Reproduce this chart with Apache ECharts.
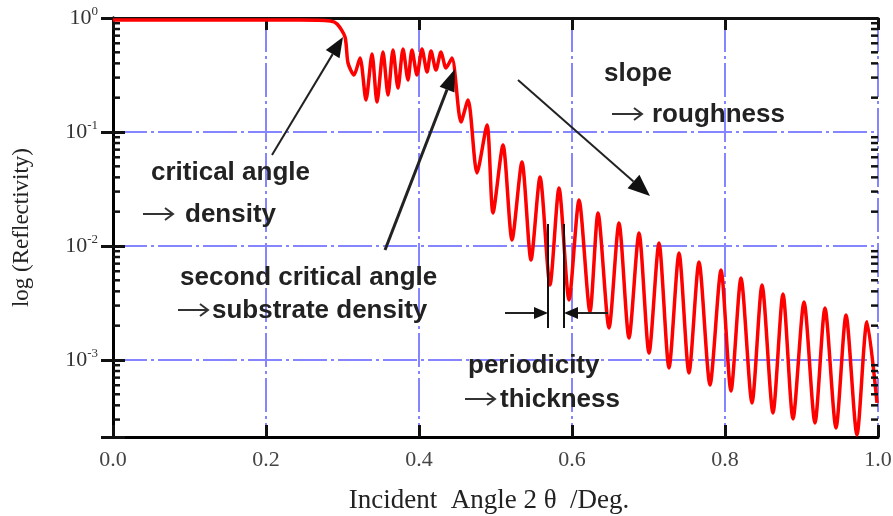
<!DOCTYPE html>
<html>
<head>
<meta charset="utf-8">
<script src="https://cdn.jsdelivr.net/npm/echarts@6/dist/echarts.min.js"></script>
<style>html,body{margin:0;padding:0;background:#fff}#c{width:893px;height:516px}</style>
</head>
<body>
<div id="c"></div>
<script>
// ---- data ----
const angle = [0, 0.244, 0.284, 0.293, 0.3033, 0.3072, 0.315, 0.3229, 0.3307, 0.3386, 0.3451, 0.3529, 0.3595, 0.366, 0.3725, 0.3791, 0.3856, 0.3908, 0.3974, 0.4039, 0.4105, 0.4157, 0.4222, 0.4288, 0.4353, 0.4431,
  0.4549, 0.4641, 0.4758, 0.4889, 0.4967, 0.5098, 0.5216, 0.5346, 0.5464, 0.5582, 0.5712, 0.583, 0.5961, 0.6092,
  0.6235, 0.634, 0.6484, 0.6614, 0.6745, 0.6876, 0.7007, 0.7137, 0.7268, 0.7399, 0.7529, 0.766, 0.7804, 0.7948, 0.8078, 0.8209, 0.8353, 0.8484, 0.8627, 0.8758, 0.8889, 0.9033, 0.9176, 0.9307, 0.9451, 0.9582, 0.9725, 0.9856, 0.9987];
const reflectivity = [0.960, 0.960, 0.941, 0.886, 0.681, 0.403, 0.316, 0.446, 0.191, 0.483, 0.183, 0.503, 0.211, 0.524, 0.243, 0.534, 0.286, 0.524, 0.316, 0.534, 0.336, 0.513, 0.350, 0.503, 0.364, 0.446,
  0.1224, 0.191, 0.0437, 0.1152, 0.0195, 0.0769, 0.0113, 0.0545, 0.00754, 0.0403, 0.00455, 0.0323, 0.00336, 0.0253,
  0.00264, 0.0195, 0.00191, 0.0159, 0.00156, 0.0130, 0.00115, 0.0106, 0.000851, 0.00868, 0.000769, 0.00724, 0.000604, 0.00615, 0.000535, 0.00524, 0.000420, 0.00455, 0.000343, 0.00379, 0.000304, 0.00323, 0.000280, 0.00286, 0.000253, 0.00248, 0.000220, 0.00216, 0.000420];
const xTickLabels = ['0.0', '0.2', '0.4', '0.6', '0.8', '1.0'];
const yMin = 2.11e-4, yMax = 1;
const minorTickValues = [3e-4, 4e-4, 5e-4, 6e-4, 7e-4, 8e-4, 9e-4,
  2e-3, 3e-3, 4e-3, 5e-3, 6e-3, 7e-3, 8e-3, 9e-3,
  2e-2, 3e-2, 4e-2, 5e-2, 6e-2, 7e-2, 8e-2, 9e-2,
  0.2, 0.3, 0.4, 0.5, 0.6, 0.7, 0.8, 0.9];
const xTitle = 'Incident  Angle 2 θ  /Deg.';
const yTitle = 'log (Reflectivity)';

const chart = echarts.init(document.getElementById('c'), null, {renderer: 'canvas'});
const serif = 'Liberation Serif';
const ink = '#222';
const gridColor = '#8585ff';

function arrow(x1, y1, x2, y2, w, hl, hw) {
  const dx = x2 - x1, dy = y2 - y1, L = Math.hypot(dx, dy);
  const ux = dx / L, uy = dy / L, px = -uy, py = ux;
  const bx = x2 - ux * hl, by = y2 - uy * hl;
  return [
    {type: 'line', shape: {x1: x1, y1: y1, x2: bx, y2: by}, style: {stroke: ink, lineWidth: w}, z: 100},
    {type: 'polygon', shape: {points: [[x2, y2], [bx + px * hw, by + py * hw], [bx - px * hw, by - py * hw]]}, style: {fill: '#111'}, z: 100}
  ];
}
function textArrow(x, y, len) {
  return [
    {type: 'line', shape: {x1: x, y1: y, x2: x + len, y2: y}, style: {stroke: '#333', lineWidth: 2}, z: 100},
    {type: 'polyline', shape: {points: [[x + len - 8, y - 6], [x + len, y], [x + len - 8, y + 6]]}, style: {stroke: '#333', lineWidth: 2, fill: null}, z: 100}
  ];
}
function label(text, x, y) {
  return {type: 'text', x: x, y: y, style: {text: text, font: 'bold 26px "Liberation Sans"', fill: ink, verticalAlign: 'middle'}, z: 100};
}

const graphics = [].concat(
  arrow(272, 155, 343, 37, 2, 20, 8),
  arrow(385, 250, 455, 69, 3, 22, 8),
  arrow(518, 80, 650, 196, 2, 22, 9),
  [
    {type: 'line', shape: {x1: 548, y1: 224, x2: 548, y2: 328}, style: {stroke: '#111', lineWidth: 2}, z: 100},
    {type: 'line', shape: {x1: 564, y1: 224, x2: 564, y2: 328}, style: {stroke: '#111', lineWidth: 2}, z: 100}
  ],
  arrow(505, 313, 548, 313, 2, 14, 6),
  arrow(608, 313, 564, 313, 2, 14, 6),
  [label('critical angle', 151, 173)],
  textArrow(143, 214, 30), [label('density', 185, 215)],
  [label('second critical angle', 180, 278)],
  textArrow(178, 310, 30), [label('substrate density', 212, 311)],
  [label('slope', 604, 74)],
  textArrow(612, 114, 30), [label('roughness', 652, 115)],
  [label('periodicity', 468, 366)],
  textArrow(465, 399, 30), [label('thickness', 500, 400)]
);

function yLabel(v) {
  const l = Math.log10(v), e = Math.round(l);
  if (Math.abs(l - e) > 1e-6) return '';
  return '10{s|' + e + '}';
}

const option = {
  animation: false,
  backgroundColor: '#fff',
  grid: {left: 113, top: 18, right: 15, bottom: 79, containLabel: false, outerBoundsMode: 'none'},
  xAxis: [
    {
      type: 'value', min: 0, max: 1, interval: 0.2, position: 'bottom',
      name: xTitle, nameLocation: 'middle', nameGap: 50,
      nameTextStyle: {fontFamily: serif, fontSize: 27, color: '#222', padding: [0, 13, 0, 0]},
      axisLine: {show: true, lineStyle: {color: '#000', width: 3}},
      axisTick: {show: true, inside: true, length: 12, lineStyle: {color: '#111', width: 3}},
      axisLabel: {fontFamily: serif, fontSize: 22, color: '#444', margin: 12,
        formatter: function (v) { return xTickLabels[Math.round(v / 0.2)]; }},
      splitLine: {show: true, lineStyle: {color: gridColor, width: 2, type: [34, 4, 3, 4]}}
    },
    {
      type: 'value', min: 0, max: 1, interval: 0.2, position: 'top',
      axisLine: {show: true, lineStyle: {color: '#111', width: 3}},
      axisTick: {show: true, inside: true, length: 12, lineStyle: {color: '#111', width: 3}},
      axisLabel: {show: false}, splitLine: {show: false}
    }
  ],
  yAxis: [
    {
      type: 'log', logBase: 10, min: yMin, max: yMax, position: 'left',
      name: yTitle, nameLocation: 'middle', nameGap: 80, nameRotate: 90,
      nameTextStyle: {fontFamily: serif, fontSize: 23, color: '#222'},
      axisLine: {show: true, lineStyle: {color: '#000', width: 3}},
      axisTick: {show: true, inside: true, length: 12, lineStyle: {color: '#111', width: 3}},
      axisLabel: {
        fontFamily: serif, fontSize: 22, color: '#333', margin: 15,
        formatter: yLabel,
        rich: {s: {fontFamily: serif, fontSize: 13, color: '#333', verticalAlign: 'top', padding: [0, 0, 12, 0]}}
      },
      splitLine: {show: true, lineStyle: {color: gridColor, width: 2, type: [34, 4, 3, 4]}}
    },
    {
      type: 'log', logBase: 10, min: yMin, max: yMax, position: 'right',
      axisLine: {show: true, lineStyle: {color: '#000', width: 3}},
      axisTick: {show: true, inside: true, length: 12, lineStyle: {color: '#111', width: 3}},
      axisLabel: {show: false}, splitLine: {show: false}
    }
  ],
  series: [
    {
      type: 'line', xAxisIndex: 0, yAxisIndex: 0,
      data: angle.map(function (a, i) { return [a, reflectivity[i]]; }),
      showSymbol: false, smooth: 0.25, clip: true,
      lineStyle: {color: '#ff0000', width: 3.5},
      z: 10
    },
    {
      type: 'custom', xAxisIndex: 0, yAxisIndex: 0, silent: true, clip: false,
      data: minorTickValues.map(function (v) { return [0, v]; }),
      encode: {x: 0, y: 1},
      renderItem: function (params, api) {
        const v = api.value(1);
        const l = api.coord([0, v]), r = api.coord([1, v]);
        return {type: 'group', children: [
          {type: 'line', shape: {x1: l[0], y1: l[1], x2: l[0] + 7, y2: l[1]}, style: {stroke: '#111', lineWidth: 2.5}},
          {type: 'line', shape: {x1: r[0], y1: r[1], x2: r[0] - 7, y2: r[1]}, style: {stroke: '#111', lineWidth: 2.5}}
        ]};
      },
      z: 20
    }
  ],
  graphic: graphics
};
chart.setOption(option);
</script>
</body>
</html>
